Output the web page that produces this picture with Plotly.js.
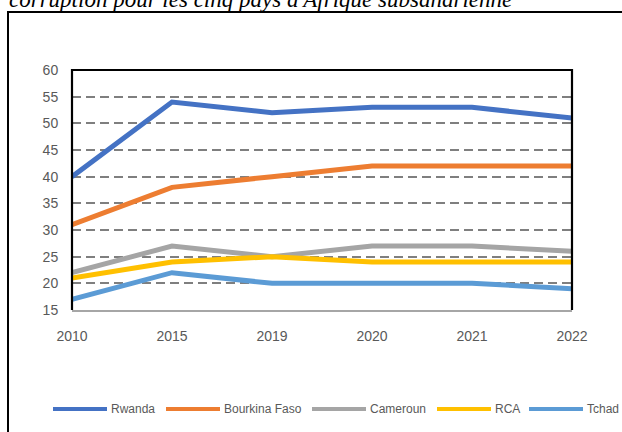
<!DOCTYPE html>
<html>
<head>
<meta charset="utf-8">
<script src="https://cdn.plot.ly/plotly-3.0.1.min.js"></script>
<style>html,body{margin:0;padding:0;background:#fff}#chart{width:622px;height:432px}</style>
</head>
<body>
<div id="chart"></div>
<script>
// ---- data ----
const years = ["2010", "2015", "2019", "2020", "2021", "2022"];
const seriesNames = ["Rwanda", "Bourkina Faso", "Cameroun", "RCA", "Tchad"];
const rwanda   = [40, 54, 52, 53, 53, 51];
const burkina  = [31, 38, 40, 42, 42, 42];
const cameroun = [22, 27, 25, 27, 27, 26];
const rca      = [21, 24, 25, 24, 24, 24];
const tchad    = [17, 22, 20, 20, 20, 19];
const yTicks   = [15, 20, 25, 30, 35, 40, 45, 50, 55, 60];
const titleText = "corruption pour les cinq pays d'Afrique subsaharienne";

// ---- styles ----
const colors = ["#4472C4", "#ED7D31", "#A5A5A5", "#FFC000", "#5B9BD5"];
const values = [rwanda, burkina, cameroun, rca, tchad];

const W = 622, H = 432;
const M = {l: 72, r: 50, t: 70, b: 122};
const pw = W - M.l - M.r, ph = H - M.t - M.b;
const px = x => (x - M.l) / pw;          // pixel -> paper x
const py = y => (H - M.b - y) / ph;      // pixel -> paper y

const traces = seriesNames.map((n, i) => ({
  x: years, y: values[i], name: n, type: "scatter", mode: "lines",
  line: {color: colors[i], width: 5}, showlegend: false, hoverinfo: "skip"
}));

// custom legend layout (pixel positions of line start)
const legLineStart = [53, 166, 312, 437, 529];
const legLineLen = 54;
const legY = 409;

const shapes = [
  // outer chart frame (extends past the window on right/bottom)
  {type: "rect", xref: "paper", yref: "paper", x0: px(8), x1: px(690), y0: py(470), y1: py(12),
   line: {color: "#000", width: 2}, layer: "below"},
  // plot area frame: left, top, right in black
  {type: "path", xref: "paper", yref: "paper",
   path: `M0,0 L0,1 L1,1 L1,0`, line: {color: "#000", width: 2.2}, layer: "above"}
];
const annotations = [
  {text: titleText, xref: "paper", yref: "paper", x: px(7), y: py(0), xanchor: "left", yanchor: "middle",
   showarrow: false, font: {family: "Liberation Serif", size: 23, color: "#000", style: "italic"}}
];
seriesNames.forEach((n, i) => {
  const x0 = legLineStart[i];
  shapes.push({type: "line", xref: "paper", yref: "paper", x0: px(x0), x1: px(x0 + legLineLen),
    y0: py(legY), y1: py(legY), line: {color: colors[i], width: 4}});
  annotations.push({text: n, xref: "paper", yref: "paper", x: px(x0 + legLineLen + 2), y: py(legY),
    xanchor: "left", yanchor: "middle", showarrow: false,
    font: {family: "Liberation Sans", size: 12, color: "#595959"}});
});

const layout = {
  width: W, height: H,
  margin: M,
  paper_bgcolor: "#fff", plot_bgcolor: "#fff",
  showlegend: false,
  font: {family: "Liberation Sans", size: 14, color: "#595959"},
  xaxis: {
    type: "category", range: [0, 5], showgrid: false, zeroline: false,
    showline: true, linecolor: "#A6A6A6", linewidth: 2,
    ticks: "outside", ticklen: 12, tickcolor: "rgba(0,0,0,0)",
    tickfont: {family: "Liberation Sans", size: 14, color: "#595959"}
  },
  yaxis: {
    range: [15, 60], tickvals: yTicks, zeroline: false,
    showgrid: true, gridcolor: "#7F7F7F", gridwidth: 2, griddash: "9px,5px",
    showline: false,
    ticks: "outside", ticklen: 10, tickcolor: "rgba(0,0,0,0)",
    tickfont: {family: "Liberation Sans", size: 14, color: "#595959"}
  },
  shapes: shapes,
  annotations: annotations
};

Plotly.newPlot("chart", traces, layout, {staticPlot: true, displayModeBar: false});
</script>
</body>
</html>
